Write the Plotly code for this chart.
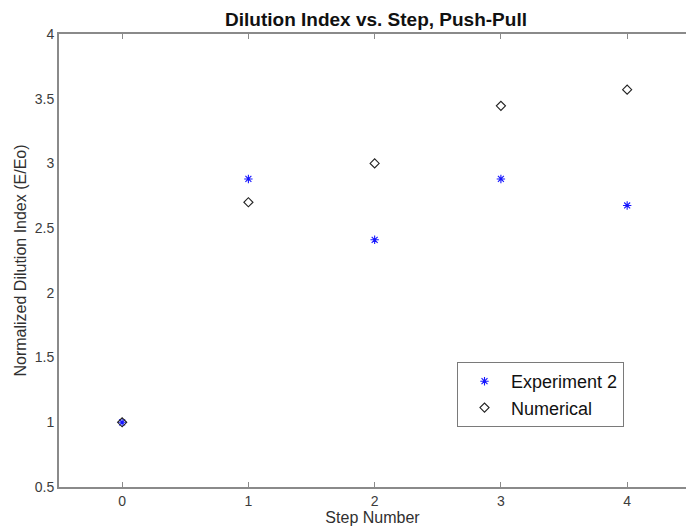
import plotly.graph_objects as go

steps = [0, 1, 2, 3, 4]
experiment2 = [1.0, 2.88, 2.41, 2.88, 2.675]
numerical = [1.0, 2.70, 3.0, 3.445, 3.57]

x_ticks = [0, 1, 2, 3, 4]
y_ticks = [0.5, 1, 1.5, 2, 2.5, 3, 3.5, 4]
y_tick_text = ["0.5", "1", "1.5", "2", "2.5", "3", "3.5", "4"]

axis_gray = "#8a8a8a"
label_gray = "#3c3c3c"
font_family = "Liberation Sans, Arial, sans-serif"

fig = go.Figure()
fig.add_trace(go.Scatter(
    x=steps, y=experiment2, mode="markers", name="Experiment 2",
    marker=dict(symbol="asterisk-open", size=7, color="#1515ff",
                line=dict(color="#1515ff", width=1.1)),
))
fig.add_trace(go.Scatter(
    x=steps, y=numerical, mode="markers", name="Numerical",
    marker=dict(symbol="diamond-open", size=7, color="#222222",
                line=dict(color="#222222", width=1.1)),
))

fig.update_layout(
    width=686, height=529,
    margin=dict(l=59, r=0, t=34, b=42),
    paper_bgcolor="white", plot_bgcolor="white",
    font=dict(family=font_family, size=14, color=label_gray),
    title=dict(text="<b>Dilution Index vs. Step, Push-Pull</b>",
               x=376 / 686, xanchor="center",
               y=1 - 19 / 529, yanchor="middle",
               font=dict(family=font_family, size=19, color="#111111")),
    xaxis=dict(
        range=[-0.5, 4.466], tickvals=x_ticks,
        ticks="inside", ticklen=5, tickwidth=1, tickcolor=axis_gray,
        showline=True, linecolor=axis_gray, linewidth=2, mirror="ticks",
        showgrid=False, zeroline=False,
        tickfont=dict(size=14, color=label_gray),
        title=dict(text="Step Number", standoff=4,
                   font=dict(size=16, color="#303030")),
    ),
    yaxis=dict(
        range=[0.5, 4], tickvals=y_ticks, ticktext=y_tick_text,
        ticks="", showline=True, linecolor=axis_gray, linewidth=2,
        mirror=False, showgrid=False, zeroline=False,
        tickfont=dict(size=14, color=label_gray),
        title=dict(text="Normalized Dilution Index (E/Eo)", standoff=4,
                   font=dict(size=16, color="#303030")),
    ),
    legend=dict(
        x=(457 - 59) / (686 - 59), y=(487 - 362) / 453,
        xanchor="left", yanchor="top",
        bgcolor="white", bordercolor="#7a7a7a", borderwidth=1,
        font=dict(size=18, color="#111111"),
        itemsizing="trace", itemwidth=43,
    ),
    showlegend=True,
)

fig.write_html("out.html")
